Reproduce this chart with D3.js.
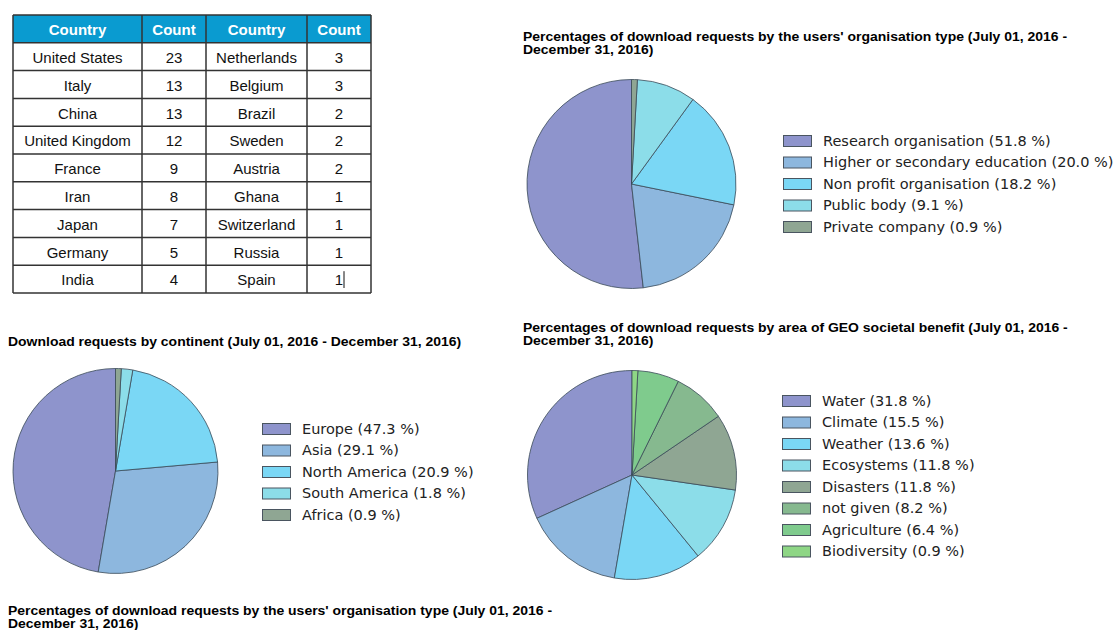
<!DOCTYPE html>
<html>
<head>
<meta charset="utf-8">
<script src="https://cdn.jsdelivr.net/npm/d3@7"></script>
<style>
  body { margin: 0; background: #fff; }
  svg { display: block; }
  .title { font-family: "Liberation Sans", Arial, sans-serif; font-weight: bold; font-size: 13px; fill: #000; }
  .legend text { font-family: "DejaVu Sans", sans-serif; font-size: 13.5px; fill: #222; }
  .cell { font-family: "Liberation Sans", Arial, sans-serif; font-size: 15px; fill: #111; }
  .head { font-family: "Liberation Sans", Arial, sans-serif; font-size: 15px; font-weight: bold; fill: #fff; }
</style>
</head>
<body>
<svg id="chart"></svg>
<script>
// table data
const tableHeader = ['Country', 'Count', 'Country', 'Count']
const countriesLeft = ['United States', 'Italy', 'China', 'United Kingdom', 'France', 'Iran', 'Japan', 'Germany', 'India']
const countsLeft = [23, 13, 13, 12, 9, 8, 7, 5, 4]
const countriesRight = ['Netherlands', 'Belgium', 'Brazil', 'Sweden', 'Austria', 'Ghana', 'Switzerland', 'Russia', 'Spain']
const countsRight = [3, 3, 2, 2, 2, 1, 1, 1, 1]

// pie data
const orgTypes = ['Research organisation', 'Higher or secondary education', 'Non profit organisation', 'Public body', 'Private company']
const orgPercent = [51.8, 20.0, 18.2, 9.1, 0.9]
const orgColors = ['#8e94cc', '#8db7de', '#7ad7f5', '#8cdde9', '#8fa693']

const continents = ['Europe', 'Asia', 'North America', 'South America', 'Africa']
const continentPercent = [47.3, 29.1, 20.9, 1.8, 0.9]
const continentColors = ['#8e94cc', '#8db7de', '#7ad7f5', '#8cdde9', '#8fa693']

const benefitAreas = ['Water', 'Climate', 'Weather', 'Ecosystems', 'Disasters', 'not given', 'Agriculture', 'Biodiversity']
const benefitPercent = [31.8, 15.5, 13.6, 11.8, 11.8, 8.2, 6.4, 0.9]
const benefitColors = ['#8e94cc', '#8db7de', '#7ad7f5', '#8cdde9', '#8fa693', '#86b98f', '#7fcb8d', '#8ed685']

const width = 1116, height = 630
// the picture is slightly stretched sideways, text follows that
const stretch = 1.075

const svg = d3.select('#chart')
    .attr('width', width)
    .attr('height', height)

// ---- table ----
const rows = countriesLeft.map((c, i) => [c, countsLeft[i], countriesRight[i], countsRight[i]])
const colEdges = [13, 142, 206, 307, 371]
const y = d3.scaleBand().domain(d3.range(rows.length + 1)).range([15, 293])

const table = svg.append('g')

table.append('rect')
    .attr('x', colEdges[0])
    .attr('y', y(0))
    .attr('width', colEdges[4] - colEdges[0])
    .attr('height', y.bandwidth())
    .attr('fill', '#0a9bd0')

table.selectAll('.head')
    .data(tableHeader)
    .enter().append('text')
    .attr('class', 'head')
    .attr('x', (d, i) => (colEdges[i] + colEdges[i + 1]) / 2)
    .attr('y', y(0) + y.bandwidth() / 2 + 1)
    .attr('dy', '0.36em')
    .attr('text-anchor', 'middle')
    .text(d => d)

const rowG = table.selectAll('.row')
    .data(rows)
    .enter().append('g')
    .attr('class', 'row')
    .attr('transform', (d, i) => `translate(0,${y(i + 1)})`)

rowG.selectAll('text')
    .data(d => d)
    .enter().append('text')
    .attr('class', 'cell')
    .attr('x', (d, i) => (colEdges[i] + colEdges[i + 1]) / 2)
    .attr('y', y.bandwidth() / 2 + 1)
    .attr('dy', '0.36em')
    .attr('text-anchor', 'middle')
    .text(d => d)

// grid lines
const bottom = y(rows.length) + y.bandwidth()
table.selectAll('.hline')
    .data(d3.range(rows.length + 2))
    .enter().append('line')
    .attr('x1', colEdges[0]).attr('x2', colEdges[4])
    .attr('y1', i => i <= rows.length ? y(i) : bottom)
    .attr('y2', i => i <= rows.length ? y(i) : bottom)
    .attr('stroke', '#333').attr('stroke-width', 1.5)

table.selectAll('.vline')
    .data(colEdges)
    .enter().append('line')
    .attr('x1', d => d).attr('x2', d => d)
    .attr('y1', y(0)).attr('y2', bottom)
    .attr('stroke', '#333').attr('stroke-width', 1.5)

// text cursor after last count
table.append('line')
    .attr('x1', 344).attr('x2', 344)
    .attr('y1', y(rows.length) + 6).attr('y2', bottom - 5)
    .attr('stroke', '#111').attr('stroke-width', 1)

// ---- titles ----
function title(lines, tx, ty) {
    const t = svg.append('g')
        .attr('transform', `translate(${tx},${ty}) scale(${stretch},1)`)
        .append('text').attr('class', 'title')
    lines.forEach((l, i) => {
        t.append('tspan').attr('x', 0).attr('y', i * 13).text(l)
    })
}
title(["Percentages of download requests by the users' organisation type (July 01, 2016 -", 'December 31, 2016)'], 523, 41)
title(['Download requests by continent (July 01, 2016 - December 31, 2016)'], 8, 346)
title(['Percentages of download requests by area of GEO societal benefit (July 01, 2016 -', 'December 31, 2016)'], 523, 332)
title(["Percentages of download requests by the users' organisation type (July 01, 2016 -", 'December 31, 2016)'], 8, 615)

// ---- pies ----
function drawPie(labels, values, colors, cx, cy, r, lx, ly) {
    const pie = d3.pie().sort(null).startAngle(0).endAngle(-2 * Math.PI)
    const arc = d3.arc().innerRadius(0).outerRadius(r)
    const color = d3.scaleOrdinal().domain(labels).range(colors)

    const g = svg.append('g').attr('transform', `translate(${cx},${cy})`)
    g.selectAll('path')
        .data(pie(values))
        .enter().append('path')
        .attr('d', arc)
        .attr('fill', (d, i) => color(labels[i]))
        .attr('stroke', '#3a4a58')
        .attr('stroke-width', 0.8)

    const ls = d3.scaleBand().domain(labels).range([0, labels.length * 21.5])
    const leg = svg.append('g')
        .attr('class', 'legend')
        .attr('transform', `translate(${lx},${ly})`)
    const item = leg.selectAll('g')
        .data(labels)
        .enter().append('g')
        .attr('transform', d => `translate(0,${ls(d)})`)
    item.append('rect')
        .attr('x', 0.5).attr('y', 0.5)
        .attr('width', 28).attr('height', 11)
        .attr('fill', d => color(d))
        .attr('stroke', '#4a5560')
        .attr('stroke-width', 1)
    item.append('text')
        .attr('transform', `translate(40,6) scale(${stretch},1)`)
        .attr('dy', '0.36em')
        .text((d, i) => `${d} (${values[i].toFixed(1)} %)`)
}

drawPie(orgTypes, orgPercent, orgColors, 631.5, 184, 104.5, 783, 135)
drawPie(continents, continentPercent, continentColors, 115.5, 471, 102.5, 262, 423)
drawPie(benefitAreas, benefitPercent, benefitColors, 632, 475, 104.5, 782, 395)
</script>
</body>
</html>
